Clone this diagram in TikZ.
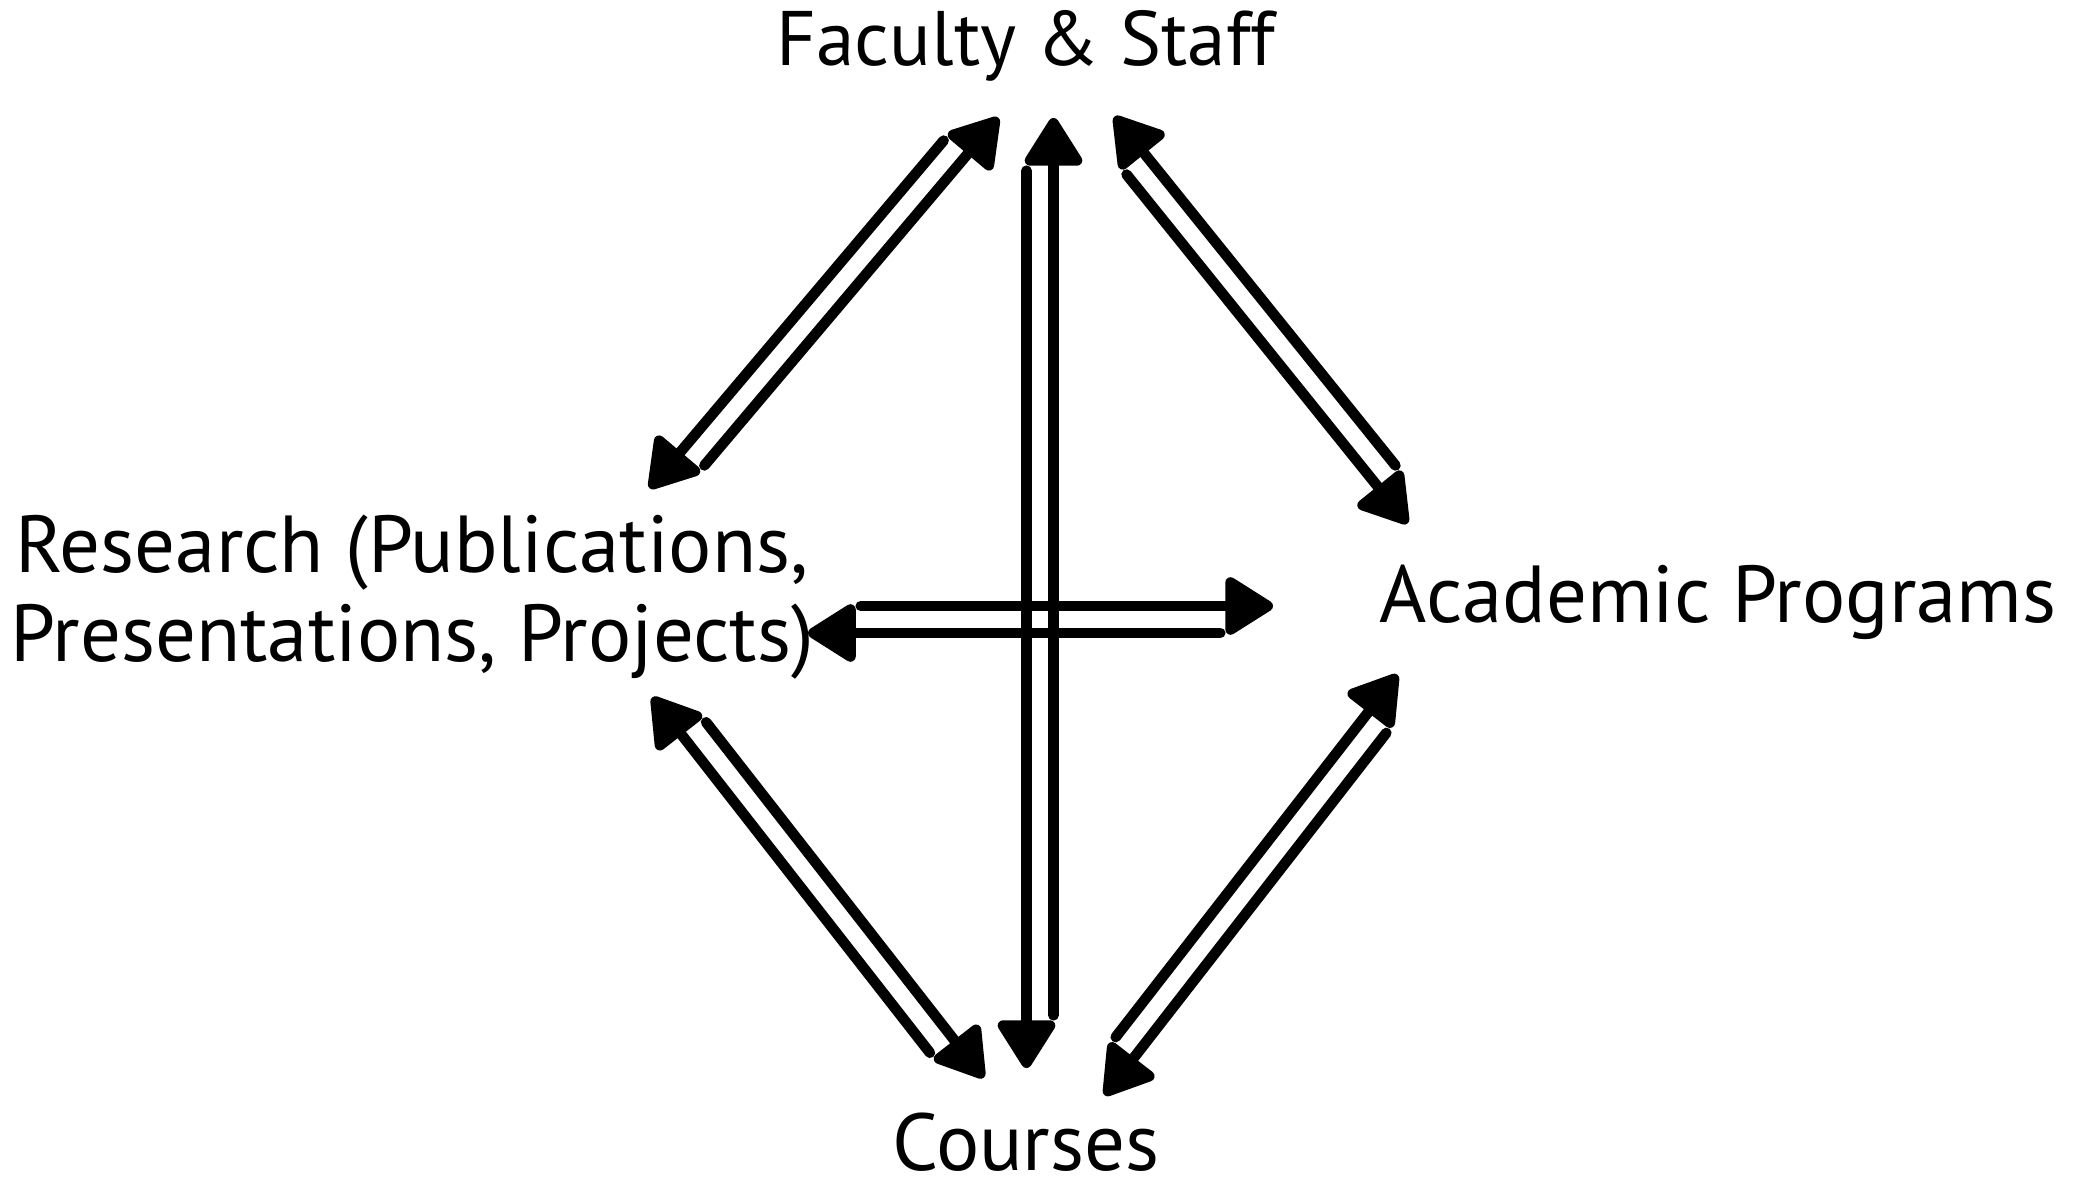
\documentclass[tikz,border=0pt]{standalone}
\usepackage{fontspec}
\setmainfont{PT Sans}
\usetikzlibrary{arrows.meta,calc}
\tikzset{
  topic/.style={font=\fontsize{23}{25.5}\selectfont, inner sep=0pt, align=center},
  link/.style={line width=3pt, line cap=round, shorten <=15pt,
    -{Triangle[length=15pt,width=18pt,round]}}
}
\begin{document}
\begin{tikzpicture}
\useasboundingbox (0,0) rectangle (20.76,-11.87);
\node[topic, font=\fontsize{22}{25}\selectfont] (fac) at (10.26,-0.46) {Faculty \& Staff};
\node[topic] (res)  at (4.12,-5.97)   {Research (Publications,\\Presentations, Projects)};
\node[topic] (acad) at (17.18,-6.02)  {Academic Programs};
\node[topic] (crs)  at (10.26,-11.42) {Courses};
% centre lines of the double arrows
\coordinate (fr1) at (6.60,-4.97);  \coordinate (fr2) at (9.88,-1.09);
\coordinate (fa1) at (11.04,-1.25); \coordinate (fa2) at (14.18,-5.15);
\coordinate (vc1) at (10.40,-1.18); \coordinate (vc2) at (10.40,-10.68);
\coordinate (hr1) at (8.08,-6.195); \coordinate (hr2) at (12.73,-6.195);
\coordinate (rc1) at (6.63,-6.89);  \coordinate (rc2) at (9.73,-10.86);
\coordinate (ca1) at (10.94,-10.87);\coordinate (ca2) at (14.08,-6.83);
\foreach \a/\b/\s/\t in {fr1/fr2/-90/90, fa1/fa2/-90/90, vc1/vc2/-90/90,
                         hr1/hr2/90/-90, rc1/rc2/90/-90, ca1/ca2/90/-90}{
  \draw[link] ($(\a)!0.135cm!\s:(\b)$) -- ($(\b)!0.135cm!\t:(\a)$);
  \draw[link] ($(\b)!0.135cm!\s:(\a)$) -- ($(\a)!0.135cm!\t:(\b)$);
}
\end{tikzpicture}
\end{document}
